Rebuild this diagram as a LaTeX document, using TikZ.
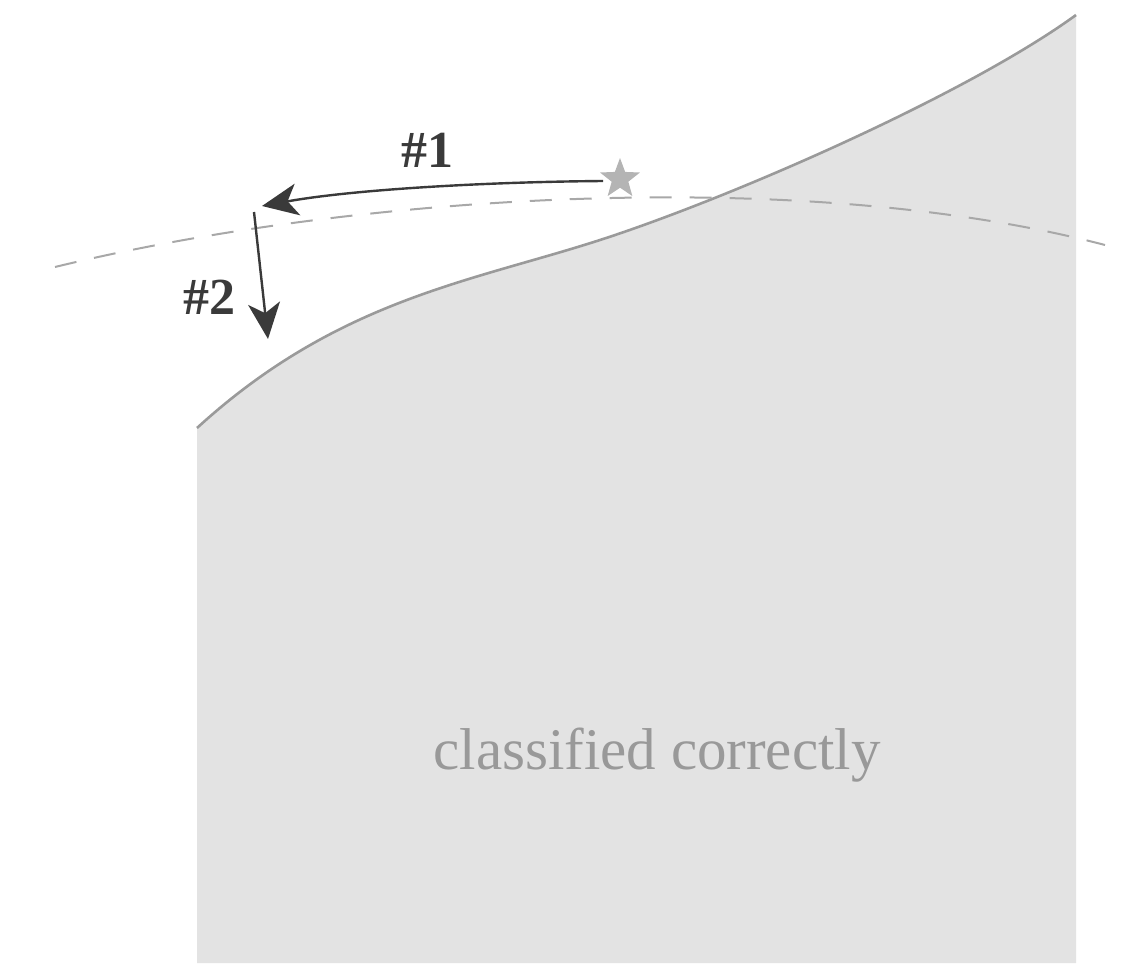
\documentclass[tikz,border=0pt]{standalone}
\usepackage{fontspec}
\setmainfont{Liberation Serif}
\usetikzlibrary{arrows.meta,shapes.geometric}
\definecolor{regionfill}{HTML}{E3E3E3}
\definecolor{edgegray}{HTML}{9A9A9A}
\definecolor{dashgray}{HTML}{A8A8A8}
\definecolor{arrowdark}{HTML}{3A3A3A}
\definecolor{stargray}{HTML}{B4B4B4}
\definecolor{textgray}{HTML}{999999}
\tikzset{
  boundary/.style={draw=edgegray, line width=2.6pt},
  dashcurve/.style={draw=dashgray, line width=2pt, dash pattern=on 22pt off 18pt},
  moveline/.style={draw=arrowdark, line width=2.4pt, -{Stealth[length=36pt,width=32pt,inset=10pt]}},
  steplabel/.style={text=arrowdark, font=\fontsize{52}{54}\selectfont\bfseries, inner sep=0pt},
  regionlabel/.style={text=textgray, font=\fontsize{59}{62}\selectfont, inner sep=0pt}
}
\def\bcurve{(197,428) .. controls (337,300) and (470,282) .. (600,240) .. controls (730,198) and (966,95) .. (1076,15)}
\begin{document}
\begin{tikzpicture}[x=1pt,y=-1pt]
\useasboundingbox (0,0) rectangle (1123,963);
% shaded region
\fill[regionfill] \bcurve -- (1076,963) -- (197,963) -- cycle;
\draw[boundary] \bcurve;
% dashed curve
\draw[dashcurve] (55,267) .. controls (350,195) and (800,165) .. (1105,245);
% star
\node[star, star points=5, star point ratio=2.4, fill=stargray, minimum size=42pt, inner sep=0pt] (star) at (620,179) {};
\coordinate (p1) at (262,206);
\coordinate (p2s) at (254,212);
\coordinate (p2) at (268,339);
\draw[moveline] (603,181) .. controls (480,182) and (350,190) .. (p1);
\draw[moveline] (p2s) -- (p2);
\node[steplabel] (l1) at (427,150) {\#1};
\node[steplabel] (l2) at (209,297) {\#2};
\node[regionlabel] (rl) at (657,755) {classified correctly};
\end{tikzpicture}
\end{document}
